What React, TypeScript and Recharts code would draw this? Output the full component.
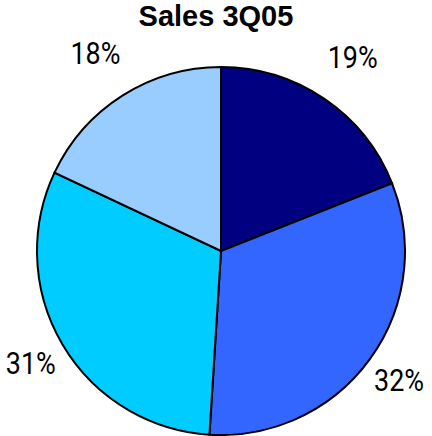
import { PieChart, Pie, Cell } from "recharts";

const categories = ["Q1", "Q2", "Q3", "Q4"];
const shares = [19, 32, 31, 18];
const COLORS = ["#000080", "#3366FF", "#00CCFF", "#99CCFF"];

const data = categories.map((name, i) => ({ name, value: shares[i] }));

const RADIAN = Math.PI / 180;

// labels in the original sit a bit further out at the top than at the bottom
const renderLabel = ({ cx, cy, midAngle, outerRadius, value }: any) => {
  const sin = Math.sin(midAngle * RADIAN);
  const r = outerRadius + 42 + 10 * sin;
  const x = cx + r * Math.cos(-midAngle * RADIAN);
  const y = cy + r * Math.sin(-midAngle * RADIAN);
  return (
    <text
      x={x}
      y={y}
      textAnchor="middle"
      dominantBaseline="central"
      fill="#000"
      fontSize={31}
      fontFamily="Roboto, sans-serif"
      textLength={50}
      lengthAdjust="spacingAndGlyphs"
    >
      {`${value}%`}
    </text>
  );
};

export default function App() {
  return (
    <div style={{ position: "absolute", left: 0, top: 0, width: 432, height: 436, background: "#fff" }}>
      <div
        style={{
          position: "absolute",
          left: 0,
          top: 0,
          width: 432,
          textAlign: "center",
          fontFamily: "'Liberation Sans', Arial, sans-serif",
          fontWeight: "bold",
          fontSize: 29,
          lineHeight: "32px",
          paddingRight: 0,
          boxSizing: "border-box",
        }}
      >
        Sales 3Q05
      </div>
      <PieChart width={432} height={436} margin={{ top: 0, right: 0, bottom: 0, left: 0 }}>
        <Pie
          data={data}
          dataKey="value"
          nameKey="name"
          cx={221}
          cy={251}
          outerRadius={184}
          startAngle={90}
          endAngle={-270}
          stroke="#000"
          strokeWidth={2}
          label={renderLabel}
          labelLine={false}
          isAnimationActive={false}
        >
          {data.map((entry, index) => (
            <Cell key={`cell-${index}`} fill={COLORS[index % COLORS.length]} />
          ))}
        </Pie>
      </PieChart>
    </div>
  );
}
